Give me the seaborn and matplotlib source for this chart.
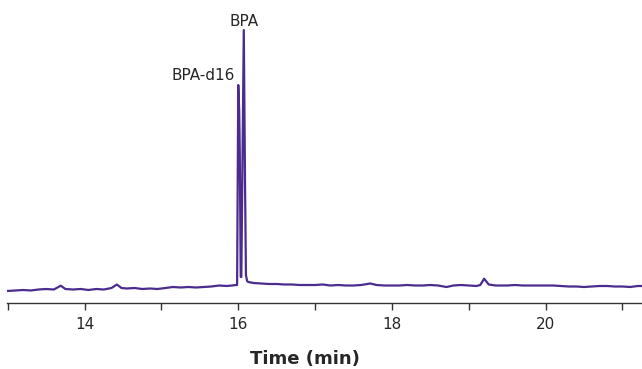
import numpy as np
import pandas as pd
import matplotlib
matplotlib.use("Agg")
import matplotlib.pyplot as plt
import seaborn as sns

# Chromatogram (time in min, signal in arbitrary units)
time_min = [
    12.99, 13.10, 13.20, 13.30, 13.40, 13.50, 13.60, 13.69, 13.75, 13.85,
    13.95, 14.05, 14.15, 14.25, 14.35, 14.42, 14.48, 14.55, 14.65, 14.75,
    14.85, 14.95, 15.05, 15.15, 15.25, 15.35, 15.45, 15.55, 15.65, 15.75,
    15.85, 15.92, 15.965, 15.985, 16.000, 16.012, 16.020, 16.032, 16.040,
    16.072, 16.088, 16.100, 16.115, 16.13, 16.20, 16.30, 16.40, 16.50,
    16.60, 16.70, 16.80, 16.90, 17.00, 17.10, 17.20, 17.30, 17.40, 17.50,
    17.60, 17.72, 17.80, 17.90, 18.00, 18.10, 18.20, 18.30, 18.40, 18.50,
    18.60, 18.71, 18.80, 18.90, 19.00, 19.10, 19.15, 19.20, 19.26, 19.35,
    19.50, 19.60, 19.70, 19.80, 19.90, 20.00, 20.10, 20.20, 20.30, 20.40,
    20.50, 20.60, 20.70, 20.80, 20.90, 21.00, 21.10, 21.20, 21.30,
]
signal = [
    12.0, 12.5, 13.0, 12.5, 13.5, 14.0, 13.5, 17.3, 14.0, 13.5,
    14.0, 13.0, 14.0, 13.5, 15.0, 18.5, 15.0, 14.5, 15.0, 14.0,
    14.5, 14.0, 15.0, 16.0, 15.5, 16.0, 15.5, 16.0, 16.5, 17.5,
    17.0, 17.5, 18.0, 18.0, 218.0, 193.0, 150.0, 26.0, 26.0,
    273.0, 121.0, 28.0, 22.0, 21.0, 20.0, 19.5, 19.0, 19.0,
    18.5, 18.5, 18.0, 18.0, 18.0, 18.5, 17.5, 18.0, 17.5, 17.5,
    18.0, 19.5, 18.0, 17.5, 17.5, 17.5, 18.0, 17.5, 17.5, 18.0,
    17.5, 16.0, 17.5, 18.0, 17.5, 17.0, 18.0, 24.3, 18.5, 17.5,
    17.5, 18.0, 17.5, 17.5, 17.5, 17.5, 17.5, 17.0, 16.5, 16.5,
    16.0, 16.5, 17.0, 17.0, 16.5, 16.5, 16.0, 17.0, 17.0,
]
peak_names = ["BPA-d16", "BPA"]
peak_times = [16.000, 16.072]
peak_heights = [218.0, 273.0]
tick_positions = [13, 14, 15, 16, 17, 18, 19, 20, 21]
tick_labels = ["", "14", "", "16", "", "18", "", "20", ""]

df = pd.DataFrame({"Time (min)": time_min, "Signal": signal})

sns.set_theme(style="white")
plt.rcParams["font.family"] = ["DejaVu Sans"]

fig = plt.figure(figsize=(6.42, 3.69), dpi=100)
ax = fig.add_axes([7 / 642, 66 / 369, 635 / 642, 303 / 369])
ax.patch.set_alpha(0)

line_color = "#4b2c8e"
text_color = "#262626"

sns.lineplot(data=df, x="Time (min)", y="Signal", ax=ax, estimator=None,
             sort=False, color=line_color, linewidth=1.6)

ax.set_xlim(12.99, 21.255)
ax.set_ylim(0, 303)

for s in ["top", "right", "left"]:
    ax.spines[s].set_visible(False)
ax.spines["bottom"].set_color("#333333")
ax.spines["bottom"].set_linewidth(1.0)

ax.set_yticks([])
ax.set_xticks(tick_positions)
ax.set_xticklabels(tick_labels)
ax.tick_params(axis="x", direction="out", length=5, width=1.0, pad=5,
               labelsize=11, colors="#333333", labelcolor=text_color,
               bottom=True)
ax.set_ylabel("")
ax.set_xlabel("Time (min)", fontsize=13, fontweight="bold", color=text_color)
ax.xaxis.set_label_coords((305 - 7) / 635, -0.200)
ax.xaxis.label.set_va("baseline")

# peak labels
ax.text(peak_times[1], peak_heights[1] + 3.5, peak_names[1], ha="center",
        va="baseline", fontsize=11, color=text_color)
ax.text(peak_times[0] - 0.045, peak_heights[0] + 5, peak_names[0], ha="right",
        va="baseline", fontsize=11, color=text_color)

fig.savefig("out.png", dpi=100)
